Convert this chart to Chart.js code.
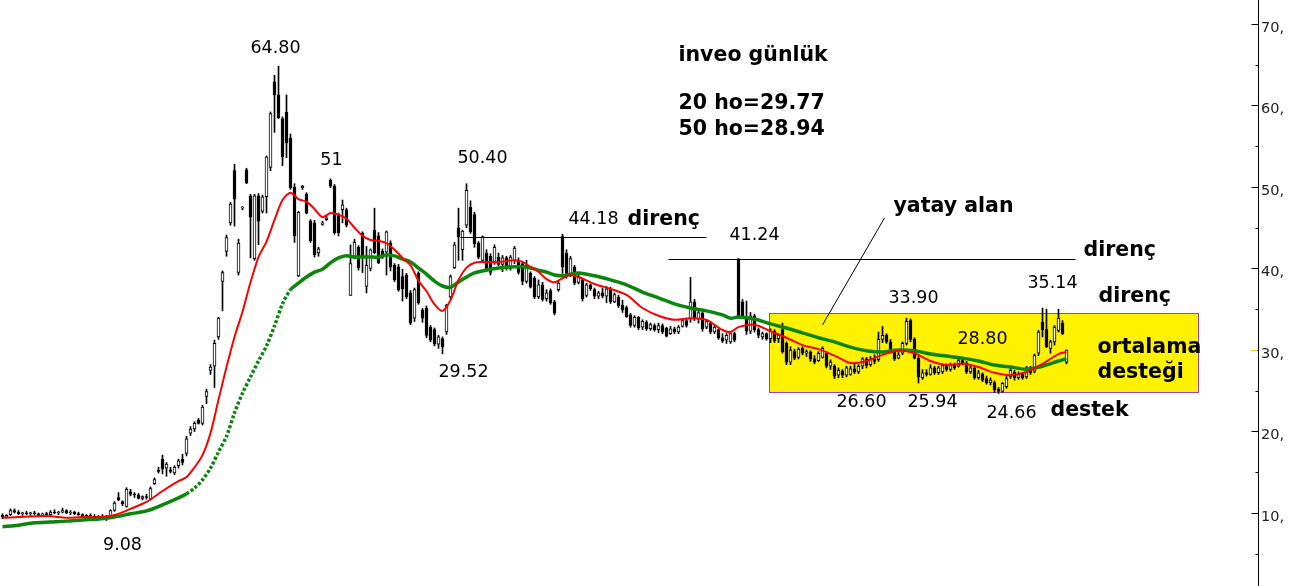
<!DOCTYPE html>
<html>
<head>
<meta charset="utf-8">
<script src="https://cdn.jsdelivr.net/npm/chart.js@4.4.0/dist/chart.umd.min.js"></script>
<style>
  html, body { margin: 0; padding: 0; background: #fff; }
  #wrap { width: 1298px; height: 586px; position: relative; }
</style>
</head>
<body>
<div id="wrap"><canvas id="inveo"></canvas></div>
<script>
/* ── DATA (daily candles) ── */
const opens = [
  9.7,9.5,9.8,10.3,10.1,9.9,10.0,9.9,10.0,9.9,
  9.7,9.9,9.8,10.1,10.0,10.1,10.3,10.0,10.1,9.9,
  9.8,9.5,9.7,9.6,9.4,9.6,9.5,9.6,10.3,11.9,
  11.4,10.8,12.6,12.3,12.2,11.8,12.0,11.7,13.6,15.2,
  16.6,15.5,15.3,14.9,15.8,16.6,17.3,19.8,20.3,21.4,
  21.0,24.3,27.5,28.0,31.6,38.4,42.1,45.6,52.0,39.5,
  47.4,52.1,48.9,41.2,48.9,47.0,48.8,52.4,62.9,61.3,
  58.4,59.2,56.0,50.0,39.1,49.9,49.1,45.8,45.6,41.9,
  45.4,46.0,50.8,50.1,46.5,47.2,47.2,36.7,41.5,42.6,
  44.3,37.8,40.0,44.7,44.0,42.1,42.0,43.1,40.4,40.2,
  39.0,39.2,37.0,33.9,39.4,34.9,35.1,32.8,32.5,30.7,
  31.4,32.2,36.5,40.1,45.0,42.3,45.3,47.5,46.6,43.1,
  41.0,41.9,41.5,40.7,41.4,40.5,41.3,40.0,41.0,41.0,
  40.6,38.4,39.4,38.8,36.5,38.0,36.3,37.3,35.9,37.4,
  43.9,41.9,39.3,40.2,38.3,38.6,36.7,38.0,37.4,36.6,
  37.0,36.6,37.5,35.9,36.5,35.5,35.2,34.3,33.0,34.0,
  32.8,33.4,32.6,33.0,32.5,33.0,32.7,32.0,32.6,32.2,
  32.9,33.6,33.8,35.9,33.8,34.5,32.8,33.3,32.2,32.5,
  31.5,31.2,31.0,32.0,41.1,35.9,34.0,32.3,34.2,32.5,
  31.6,32.0,31.4,32.3,31.4,32.5,30.8,28.5,29.8,29.1,
  30.2,29.6,29.7,28.9,28.7,29.1,29.6,28.0,28.0,26.9,
  27.4,26.9,27.0,27.7,27.3,28.0,28.9,28.2,28.9,28.8,
  31.3,31.8,31.0,30.0,29.0,29.6,30.8,33.6,31.3,29.0,
  26.6,27.2,27.0,27.8,27.2,27.3,28.1,27.6,28.2,28.0,
  28.7,28.4,27.3,27.8,26.6,27.0,26.5,26.0,26.0,25.2,
  24.9,25.5,26.7,27.3,26.6,27.0,26.7,27.8,27.4,29.6,
  33.4,32.5,30.2,31.0,32.4,33.3,28.5
];
const highs = [
  9.9,9.8,10.5,10.5,10.3,10.1,10.2,10.1,10.2,10.0,
  10.0,10.1,10.3,10.4,10.2,10.6,10.4,10.3,10.2,10.1,
  9.9,9.8,9.9,9.8,9.7,9.8,9.7,10.4,11.4,12.5,
  11.5,13.1,12.9,12.5,12.4,12.1,12.3,13.2,14.3,15.6,
  17.1,16.2,15.6,15.8,16.6,17.2,19.4,20.6,21.2,21.6,
  23.2,25.2,28.2,31.2,34.0,39.7,44.1,48.1,52.8,43.6,
  47.6,52.3,49.1,49.1,49.2,49.0,53.8,59.2,63.7,64.8,
  58.6,61.3,56.5,50.4,47.0,50.2,49.3,46.0,45.9,42.6,
  45.8,46.4,51.0,50.3,46.8,48.4,47.4,42.9,43.6,42.8,
  44.5,42.7,42.4,47.4,44.4,42.4,44.6,43.4,40.6,40.5,
  39.9,39.4,37.3,37.6,39.6,35.1,35.4,33.0,32.7,31.8,
  31.6,35.6,39.2,43.2,47.4,44.7,50.4,48.3,46.9,43.3,
  44.0,42.3,41.8,42.9,41.9,41.6,41.5,41.6,42.7,41.3,
  40.8,41.0,39.6,39.0,38.6,38.3,37.4,37.5,36.1,38.4,
  44.2,42.3,41.5,40.4,39.3,38.8,38.2,38.1,37.6,37.2,
  37.6,37.8,37.7,37.0,36.7,36.1,35.4,34.5,34.2,34.1,
  33.7,33.6,33.3,33.2,33.3,33.2,32.8,32.9,32.8,33.0,
  33.8,33.9,38.9,36.2,34.9,34.7,33.7,33.5,33.0,32.6,
  32.0,32.0,32.3,32.2,41.24,36.2,36.0,34.6,34.4,32.7,
  32.2,32.1,32.6,32.5,32.0,33.3,31.0,30.4,30.1,30.3,
  30.4,30.0,29.9,29.3,29.8,30.4,29.8,28.8,28.2,27.8,
  27.6,28.0,28.0,28.3,28.2,29.1,29.1,29.2,29.4,32.2,
  32.9,32.0,31.3,30.1,29.7,31.0,33.9,33.8,31.5,29.2,
  27.6,27.6,28.2,28.0,28.0,28.3,28.3,28.4,28.4,28.9,
  28.9,28.6,28.0,28.0,27.5,27.2,26.8,26.6,26.2,25.4,
  26.0,27.0,27.8,27.5,27.3,27.2,28.0,28.0,29.5,32.4,
  35.14,35.0,31.2,33.0,35.0,33.6,30.0
];
const lows = [
  9.3,9.4,9.7,10.0,9.8,9.7,9.8,9.7,9.8,9.6,
  9.6,9.7,9.7,9.9,9.8,10.0,9.9,9.8,9.8,9.7,
  9.4,9.3,9.5,9.3,9.3,9.4,9.08,9.5,10.2,11.5,
  10.9,10.7,12.1,11.9,11.7,11.6,11.7,11.6,13.5,14.9,
  14.8,14.5,14.9,14.7,15.5,15.9,17.0,19.5,20.0,20.9,
  20.8,23.4,27.0,25.4,31.3,34.8,41.5,45.3,45.2,39.2,
  47.2,50.4,41.3,41.0,42.9,46.8,46.8,52.0,56.7,58.4,
  52.6,53.6,49.7,43.2,39.0,49.7,46.7,43.2,41.4,41.5,
  45.3,45.9,49.9,44.2,44.0,45.6,45.1,36.7,41.2,39.8,
  39.5,37.0,39.7,41.8,40.6,41.2,39.2,39.7,38.4,37.2,
  36.0,36.3,33.1,33.5,35.6,33.4,31.5,31.0,30.5,30.2,
  29.52,31.9,36.3,40.0,41.0,41.0,45.0,44.3,42.6,41.2,
  40.8,39.6,39.2,40.5,40.3,39.6,39.8,39.8,40.6,39.3,
  38.0,38.2,37.6,36.3,36.3,36.0,36.0,35.6,34.3,37.2,
  39.4,38.8,39.0,38.0,38.1,36.0,36.5,37.3,36.3,36.3,
  36.4,35.8,35.7,35.8,35.2,34.6,34.0,32.8,32.8,32.5,
  32.5,32.4,32.4,32.3,32.1,32.0,31.6,31.9,32.0,32.0,
  32.8,32.8,33.4,33.6,33.3,32.3,32.6,32.0,32.0,31.3,
  30.9,30.8,30.8,31.0,33.9,33.9,31.9,32.0,32.2,31.5,
  31.3,31.2,30.9,30.9,30.9,29.6,28.2,28.2,28.8,28.9,
  29.4,29.2,28.6,28.3,28.6,29.0,27.8,27.6,26.5,26.6,
  26.6,26.7,26.9,27.1,27.1,27.7,27.8,28.0,28.3,28.6,
  30.9,30.8,29.8,28.7,28.9,29.4,30.6,31.0,28.9,25.94,
  26.4,26.8,26.9,27.0,27.0,27.1,27.4,27.4,27.6,27.9,
  28.2,27.1,27.1,26.4,26.4,26.1,25.8,25.7,24.8,24.66,
  24.8,25.3,26.5,26.3,26.4,26.4,26.5,27.0,27.2,29.3,
  31.6,30.3,29.6,30.6,32.2,31.9,28.3
];
const closes = [
  9.5,9.7,10.3,10.1,9.9,10.0,9.9,10.0,9.9,9.7,
  9.9,9.8,10.1,10.0,10.1,10.3,10.0,10.1,9.9,9.8,
  9.5,9.7,9.6,9.4,9.6,9.5,9.6,10.3,11.2,11.6,
  11.1,12.9,12.3,12.2,11.8,12.0,11.9,13.0,14.1,15.1,
  15.4,16.0,15.1,15.6,16.4,16.2,19.1,20.3,21.0,21.0,
  23.0,24.9,27.9,30.8,33.9,39.5,43.8,47.9,48.5,43.1,
  47.4,50.5,46.3,48.9,45.8,48.8,53.7,59.0,61.3,58.5,
  53.7,55.4,49.9,44.0,46.9,50.1,46.8,43.4,41.7,42.4,
  45.6,46.2,50.1,44.4,44.4,47.8,45.3,40.6,43.2,40.1,
  41.4,40.4,42.3,41.9,40.7,41.4,44.5,40.2,38.6,37.4,
  37.5,36.5,33.3,37.4,35.8,33.9,31.8,31.2,30.7,31.6,
  30.4,35.5,39.0,42.9,43.9,44.6,49.6,44.5,43.0,41.4,
  43.9,39.8,39.5,42.6,40.5,41.3,40.0,41.4,42.5,39.5,
  38.4,40.4,37.7,36.5,38.0,36.2,37.0,35.8,34.5,38.2,
  40.2,39.0,41.2,38.2,39.0,36.3,38.0,37.5,36.6,37.0,
  36.6,37.5,35.9,36.8,35.4,34.9,34.1,33.0,34.0,32.7,
  33.5,32.6,33.1,32.5,33.0,32.2,31.7,32.6,32.2,32.8,
  33.6,33.0,35.9,33.8,34.6,32.6,33.5,32.2,32.8,31.5,
  31.1,31.8,32.0,31.2,34.0,34.1,32.3,34.2,32.5,31.8,
  32.0,31.4,32.3,31.1,31.8,29.8,28.5,30.0,29.0,30.1,
  29.6,29.8,28.9,28.5,29.6,30.2,28.0,28.5,26.8,27.5,
  26.9,27.8,27.7,27.3,28.0,28.9,28.1,28.9,28.6,31.3,
  31.8,31.0,30.0,28.9,29.4,30.8,33.5,31.3,29.0,26.7,
  27.2,27.0,27.8,27.2,27.8,28.1,27.6,28.2,27.8,28.7,
  28.4,27.3,27.8,26.6,27.2,26.3,26.0,26.3,25.1,24.9,
  25.9,26.5,27.5,26.6,27.0,26.6,27.8,27.2,29.3,32.2,
  32.5,30.4,31.0,32.8,33.9,32.0,30.0
];

// moving averages, read at these bar positions
const maIdx = [
  0,4,8,12,16,20,24,28,32,36,
  40,44,46,48,50,52,54,56,58,60,
  62,64,66,68,70,72,74,76,78,80,
  82,84,86,88,90,92,94,96,98,100,
  102,104,106,108,110,112,114,116,118,120,
  124,128,130,132,134,136,138,140,142,144,
  148,152,156,160,164,168,172,176,180,182,
  184,188,192,196,200,204,208,212,216,220,
  224,228,232,236,240,244,248,252,256,260,
  264,266
];
const ma20 = [
  9.4,9.5,9.6,9.6,9.4,9.5,9.5,9.75,10.5,11.35,
  12.7,13.9,14.4,15.6,17.1,19.8,23.9,27.9,31.6,34.7,
  38.3,41.4,43.3,45.95,48.4,49.3,48.5,48.2,47.3,46.3,
  46.8,46.6,46.1,45.0,44.0,43.5,43.4,43.1,42.3,41.3,
  40.4,38.5,37.2,35.6,34.8,36.1,38.6,40.1,40.7,40.8,
  40.8,41.0,40.8,40.2,39.6,38.7,38.3,38.8,39.2,38.95,
  38.1,37.5,36.75,35.15,34.2,33.7,33.9,33.7,32.45,32.2,
  32.8,33.1,32.3,31.5,30.6,30.1,29.3,28.4,28.65,29.4,
  29.9,29.6,28.65,28.15,28.3,27.9,27.2,26.9,27.3,28.3,
  29.5,29.77
];
const ma50 = [
  8.3,8.5,8.8,8.9,9.0,9.15,9.25,9.5,9.9,10.25,
  11.0,11.85,12.35,13.05,14.05,15.5,17.5,19.4,22.3,24.7,
  26.7,28.65,30.5,32.95,35.65,37.4,38.2,38.95,39.55,39.9,
  40.7,41.3,41.55,41.4,41.4,41.4,41.4,41.65,41.55,41.15,
  40.8,40.05,39.3,38.45,37.85,37.7,38.35,38.95,39.45,39.7,
  40.05,40.2,40.2,40.05,39.8,39.55,39.2,39.1,39.3,39.45,
  39.1,38.6,38.0,37.1,36.4,35.65,35.15,34.8,34.3,33.9,
  34.05,33.8,33.2,32.7,32.1,31.5,31.0,30.35,29.9,29.75,
  30.0,29.9,29.5,29.25,29.0,28.65,28.15,27.9,27.65,28.0,
  28.65,28.94
];

const yTicks = [10, 20, 30, 40, 50, 60, 70];
const yMinor = [5, 15, 25, 35, 45, 55, 65];

// horizontal resistance levels: [value, fromBar, toBar]
const levels = [[43.9, 114.5, 176], [41.2, 166.5, 268.25]];
// "yatay alan" box: [fromBar, toBar, low, high]
const box = [191.5, 298.75, 24.85, 34.54];

// annotations: [text, bar, value, bold, align]
const notes = [
  ['64.80', 68.25, 67.05, false, 'center'],
  ['51', 82.25, 53.3, false, 'center'],
  ['50.40', 120, 53.55, false, 'center'],
  ['29.52', 115.25, 27.3, false, 'center'],
  ['9.08', 30, 6.07, false, 'center'],
  ['44.18', 147.75, 46.07, false, 'center'],
  ['direnç', 156.25, 46.0, true, 'left'],
  ['41.24', 188, 43.99, false, 'center'],
  ['yatay alan', 222.75, 47.55, true, 'left'],
  ['direnç', 270.25, 42.15, true, 'left'],
  ['35.14', 262.5, 38.2, false, 'center'],
  ['direnç', 274, 36.6, true, 'left'],
  ['33.90', 227.75, 36.26, false, 'center'],
  ['28.80', 245, 31.35, false, 'center'],
  ['ortalama', 273.75, 30.25, true, 'left'],
  ['desteği', 273.75, 27.2, true, 'left'],
  ['26.60', 214.75, 23.5, false, 'center'],
  ['25.94', 232.5, 23.5, false, 'center'],
  ['24.66', 252.25, 22.27, false, 'center'],
  ['destek', 262, 22.5, true, 'left'],
  ['inveo günlük', 169, 66.07, true, 'left'],
  ['20 ho=29.77', 169, 60.18, true, 'left'],
  ['50 ho=28.94', 169, 57.0, true, 'left']
];

const bars = opens.map((o, i) => i);
const isUp = i => closes[i] >= opens[i];

/* ── overlay: box, level lines, notes, right axis ── */
const overlay = {
  id: 'overlay',
  beforeDatasetsDraw(chart) {
    const { ctx, scales: { x, y } } = chart;
    const x0 = Math.round(x.getPixelForValue(box[0])), x1 = Math.round(x.getPixelForValue(box[1]));
    const y0 = Math.round(y.getPixelForValue(box[3])), y1 = Math.round(y.getPixelForValue(box[2]));
    ctx.save();
    ctx.fillStyle = '#FFF200';
    ctx.fillRect(x0, y0, x1 - x0, y1 - y0);
    ctx.strokeStyle = '#A040C0';
    ctx.lineWidth = 1;
    ctx.strokeRect(x0 + 0.5, y0 + 0.5, x1 - x0, y1 - y0);
    ctx.restore();
  },
  afterDatasetsDraw(chart) {
    const { ctx, chartArea: a, scales: { x, y } } = chart;
    ctx.save();
    ctx.strokeStyle = '#000';
    ctx.lineWidth = 1;
    levels.forEach(([v, f, t]) => {
      const py = Math.round(y.getPixelForValue(v)) + 0.5;
      ctx.beginPath(); ctx.moveTo(x.getPixelForValue(f), py); ctx.lineTo(x.getPixelForValue(t), py); ctx.stroke();
    });
    // pointer from "yatay alan" into the box
    ctx.beginPath();
    ctx.moveTo(x.getPixelForValue(220.5), y.getPixelForValue(46.2));
    ctx.lineTo(x.getPixelForValue(205), y.getPixelForValue(33.07));
    ctx.stroke();

    ctx.fillStyle = '#000';
    ctx.textBaseline = 'middle';
    notes.forEach(([t, i, v, bold, align]) => {
      ctx.font = bold ? 'bold 20.5px "DejaVu Sans"' : '17.5px "DejaVu Sans"';
      ctx.textAlign = align;
      ctx.fillText(t, x.getPixelForValue(i), y.getPixelForValue(v));
    });

    // right axis line with inner tick marks
    const ax = Math.round(a.right) + 0.5;
    ctx.beginPath(); ctx.moveTo(ax, 0); ctx.lineTo(ax, chart.height); ctx.stroke();
    yTicks.forEach(v => {
      const py = Math.round(y.getPixelForValue(v)) + 0.5;
      ctx.beginPath(); ctx.moveTo(ax - 7, py); ctx.lineTo(ax, py); ctx.stroke();
    });
    yMinor.forEach(v => {
      const py = Math.round(y.getPixelForValue(v)) + 0.5;
      ctx.beginPath(); ctx.moveTo(ax - 3, py); ctx.lineTo(ax, py); ctx.stroke();
    });
    // last price marker
    const lp = Math.round(y.getPixelForValue(closes[closes.length - 1])) + 0.5;
    ctx.strokeStyle = '#E6E000';
    ctx.beginPath(); ctx.moveTo(ax - 8, lp); ctx.lineTo(ax - 1, lp); ctx.stroke();
    ctx.restore();
  }
};

new Chart(document.getElementById('inveo').getContext('2d'), {
  type: 'bar',
  data: {
    datasets: [
      { type: 'line', label: '20 ho', order: 1,
        data: maIdx.map((i, k) => ({ x: i, y: ma20[k] })),
        borderColor: '#FF0000', borderWidth: 2, pointRadius: 0, tension: 0.3 },
      { type: 'line', label: '50 ho', order: 2,
        data: maIdx.map((i, k) => ({ x: i, y: ma50[k] })),
        borderColor: '#0A860A', borderWidth: 3.5, pointRadius: 0, tension: 0.3,
        segment: { borderDash: c => (c.p0.parsed.x >= 46 && c.p1.parsed.x <= 72) ? [3, 2] : undefined } },
      { label: 'body', order: 3, grouped: false,
        data: bars.map(i => ({ x: i, y: [opens[i], closes[i]] })),
        backgroundColor: c => isUp(c.dataIndex) ? '#fff' : '#000',
        borderColor: '#000', borderWidth: 1, borderSkipped: false,
        barThickness: 3, minBarLength: 1 },
      { label: 'wick', order: 4, grouped: false,
        data: bars.map(i => ({ x: i, y: [lows[i], highs[i]] })),
        backgroundColor: '#000', borderWidth: 0, barThickness: 1 }
    ]
  },
  options: {
    responsive: true, maintainAspectRatio: false, animation: false, devicePixelRatio: 1,
    layout: { padding: 0 },
    plugins: { legend: { display: false }, tooltip: { enabled: false } },
    scales: {
      x: { type: 'linear', display: false, min: -0.625, max: 313.875, offset: false },
      y: {
        type: 'linear', position: 'right', min: 1.04, max: 72.94,
        afterBuildTicks: s => { s.ticks = yTicks.map(v => ({ value: v })); },
        afterFit: s => { s.width = 40; s.paddingTop = 0; s.paddingBottom = 0; },
        grid: { display: false, drawTicks: false },
        border: { display: false },
        ticks: { padding: 3, labelOffset: 4, color: '#222',
                 font: { family: 'DejaVu Sans', size: 14.5 }, callback: v => v + ',' }
      }
    }
  },
  plugins: [overlay]
});
</script>
</body>
</html>
